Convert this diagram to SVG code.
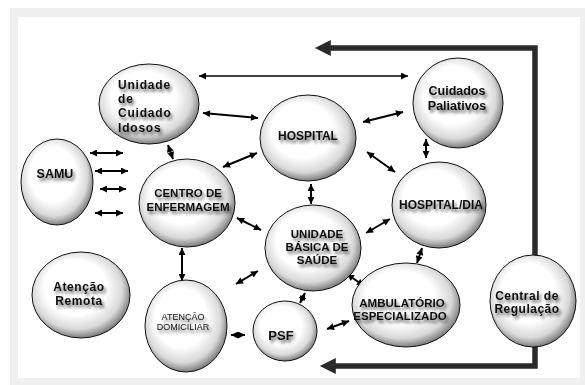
<svg xmlns="http://www.w3.org/2000/svg" width="585" height="385" viewBox="0 0 585 385">
<defs>
<style>
.node ellipse{fill:url(#sph);stroke:#111;stroke-width:1}
.lbl{font-family:"Liberation Sans",Arial,sans-serif;font-weight:bold;font-size:12px;fill:#111;text-anchor:middle;filter:url(#tsh)}
.conn line{stroke:#000;stroke-width:2;marker-start:url(#ah);marker-end:url(#ah)}
.thick{fill:none;stroke:#2a2a2a;stroke-width:5.5;stroke-linejoin:miter}
</style>
<radialGradient id="sph" cx="0.47" cy="0.45" r="0.55" fx="0.4" fy="0.36">
<stop offset="0" stop-color="#fff"/>
<stop offset="0.58" stop-color="#fff"/>
<stop offset="0.84" stop-color="#d9d9d9"/>
<stop offset="1" stop-color="#7e7e7e"/>
</radialGradient>
<filter id="tsh" x="-20%" y="-40%" width="140%" height="200%">
<feGaussianBlur in="SourceAlpha" stdDeviation="1.7" result="b"/>
<feOffset in="b" dx="2" dy="3" result="o"/>
<feComponentTransfer in="o" result="s"><feFuncA type="linear" slope="0.6"/></feComponentTransfer>
<feMerge><feMergeNode in="s"/><feMergeNode in="SourceGraphic"/></feMerge>
</filter>
<marker id="ah" viewBox="0 0 10 10" refX="10" refY="5" markerWidth="8" markerHeight="7" markerUnits="userSpaceOnUse" orient="auto-start-reverse">
<path d="M0,0 L10,5 L0,10 Z" fill="#000"/>
</marker>
<marker id="big" viewBox="0 0 10 10" refX="0.5" refY="5" markerWidth="18" markerHeight="16" markerUnits="userSpaceOnUse" orient="auto">
<path d="M0,0 L10,5 L0,10 Z" fill="#2a2a2a"/>
</marker>
</defs>
<rect x="0" y="0" width="585" height="385" fill="#fff"/>
<rect x="10" y="8" width="575" height="377" fill="#f0f0f0"/>
<rect x="18" y="17" width="562" height="361" fill="#fff"/>

<g id="connectors">
<path class="thick" d="M535,256 V48 H330" marker-end="url(#big)"/>
<path class="thick" d="M535,347 V366 H335" marker-end="url(#big)"/>
<g class="conn">
<line x1="199" y1="76" x2="408" y2="76" style="stroke-width:1.6"/>
<line x1="203" y1="113" x2="258" y2="118"/>
<line x1="168" y1="145" x2="173" y2="159"/>
<line x1="90" y1="153" x2="123" y2="153"/>
<line x1="95" y1="171" x2="128" y2="171"/>
<line x1="100" y1="189" x2="126" y2="189"/>
<line x1="95" y1="213" x2="123" y2="213"/>
<line x1="223" y1="167" x2="257" y2="153"/>
<line x1="363" y1="122" x2="403" y2="112"/>
<line x1="367" y1="152" x2="395" y2="172"/>
<line x1="426" y1="139" x2="426" y2="158"/>
<line x1="311" y1="184" x2="311" y2="204"/>
<line x1="237" y1="218" x2="261" y2="230"/>
<line x1="366" y1="233" x2="390" y2="219"/>
<line x1="182" y1="248" x2="182" y2="281"/>
<line x1="236" y1="284" x2="258" y2="271"/>
<line x1="422" y1="248" x2="417" y2="263"/>
<line x1="347" y1="274" x2="364" y2="286"/>
<line x1="305" y1="293" x2="300" y2="303"/>
<line x1="327" y1="329" x2="349" y2="321"/>
<line x1="231" y1="335" x2="245" y2="335"/>
</g>
</g>

<g id="n-idosos" class="node">
<ellipse cx="149" cy="104" rx="50" ry="40"/>
<text class="lbl" style="text-anchor:start;letter-spacing:0.8px" x="118" y="89">Unidade</text>
<text class="lbl" style="text-anchor:start;letter-spacing:0.8px" x="118" y="103">de</text>
<text class="lbl" style="text-anchor:start;letter-spacing:0.8px" x="118" y="117">Cuidado</text>
<text class="lbl" style="text-anchor:start;letter-spacing:0.8px" x="118" y="132">Idosos</text>
</g>
<g id="n-samu" class="node">
<ellipse cx="57" cy="182" rx="36" ry="43"/>
<text class="lbl" style="font-size:12.5px" x="55" y="178">SAMU</text>
</g>
<g id="n-centro" class="node">
<ellipse cx="187" cy="203" rx="48" ry="44"/>
<text class="lbl" style="font-size:11.5px" x="188" y="197">CENTRO DE</text>
<text class="lbl" style="font-size:11.5px" x="188" y="211">ENFERMAGEM</text>
</g>
<g id="n-hospital" class="node">
<ellipse cx="308" cy="138" rx="48" ry="43"/>
<text class="lbl" x="308" y="140">HOSPITAL</text>
</g>
<g id="n-paliativos" class="node">
<ellipse cx="458" cy="103" rx="45" ry="45"/>
<text class="lbl" style="font-size:12.5px" x="457" y="95">Cuidados</text>
<text class="lbl" style="font-size:12.5px" x="457" y="110">Paliativos</text>
</g>
<g id="n-hospdia" class="node">
<ellipse cx="439" cy="205" rx="47" ry="43"/>
<text class="lbl" x="441" y="209">HOSPITAL/DIA</text>
</g>
<g id="n-ubs" class="node">
<ellipse cx="313" cy="248" rx="48" ry="43"/>
<text class="lbl" style="font-size:11.5px" x="317" y="238">UNIDADE</text>
<text class="lbl" style="font-size:11.5px" x="317" y="251">BÁSICA DE</text>
<text class="lbl" style="font-size:11.5px" x="317" y="264">SAÚDE</text>
</g>
<g id="n-remota" class="node">
<ellipse cx="81" cy="295" rx="49" ry="43"/>
<text class="lbl" style="letter-spacing:0.6px" x="79" y="291">Atenção</text>
<text class="lbl" style="letter-spacing:0.6px" x="79" y="305">Remota</text>
</g>
<g id="n-domiciliar" class="node">
<ellipse cx="186" cy="326" rx="41" ry="46"/>
<text class="lbl" style="font-size:9px;font-weight:normal" x="183" y="320">ATENÇÃO</text>
<text class="lbl" style="font-size:9px;font-weight:normal" x="183" y="330">DOMICILIAR</text>
</g>
<g id="n-psf" class="node">
<ellipse cx="285" cy="331" rx="32" ry="30"/>
<text class="lbl" style="font-size:13px" x="281" y="340">PSF</text>
</g>
<g id="n-ambulatorio" class="node">
<ellipse cx="406" cy="305" rx="54" ry="42"/>
<text class="lbl" style="font-size:11.5px" x="402" y="307">AMBULATÓRIO</text>
<text class="lbl" style="font-size:11.5px" x="400" y="320">ESPECIALIZADO</text>
</g>
<g id="n-regulacao" class="node">
<ellipse cx="533" cy="301" rx="43" ry="46"/>
<text class="lbl" style="letter-spacing:0.5px" x="527" y="300">Central de</text>
<text class="lbl" style="letter-spacing:0.5px" x="527" y="313">Regulação</text>
</g>
</svg>
